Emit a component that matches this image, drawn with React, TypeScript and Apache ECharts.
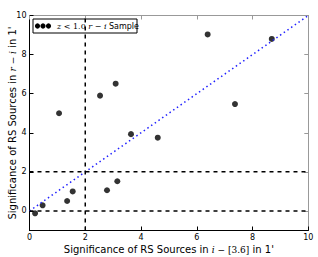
import React, { useEffect, useRef } from "react";
import * as echarts from "echarts";

const xValues = [0.2, 0.47, 1.35, 1.55, 2.78, 3.15, 3.64, 4.6, 1.06, 2.53, 3.09, 6.39, 7.37, 8.69];
const yValues = [-0.12, 0.29, 0.51, 1.0, 1.06, 1.52, 3.93, 3.75, 5.0, 5.9, 6.51, 9.03, 5.47, 8.8];
const xTicks = [0, 2, 4, 6, 8, 10];
const yTicks = [0, 2, 4, 6, 8, 10];
const vLineX = 2;
const hLineYs = [0, 2];
const oneToOne = [[0, 0], [10, 10]];

export default function App() {
  const ref = useRef<HTMLDivElement>(null);
  useEffect(() => {
    if (!ref.current) return;
    const chart = echarts.init(ref.current, null, { renderer: "svg" });
    const sans = "DejaVu Sans";
    const math = "DejaVu Serif";
    const gL = 29.5, gR = 9.7, gT = 15.5, gB = 26.5;
    const tickCommon = { show: true, inside: true, length: 4, lineStyle: { color: "#000", width: 1 } };
    const rich = {
      m: { fontFamily: math, fontStyle: "italic", fontSize: 9, color: "#000" },
      s: { fontFamily: math, fontSize: 9, color: "#000" },
      t: { fontFamily: sans, fontSize: 10, color: "#000" },
    };
    chart.setOption({
      animation: false,
      grid: { left: gL, right: gR, top: gT, bottom: gB, containLabel: false, outerBoundsMode: "none" },
      xAxis: [
        {
          type: "value", min: 0, max: 10, position: "bottom",
          axisLine: { show: true, onZero: false, lineStyle: { color: "#000", width: 1 } },
          axisTick: { ...tickCommon, customValues: xTicks },
          axisLabel: { customValues: xTicks, fontFamily: sans, fontSize: 8, color: "#000", margin: 3 },
          splitLine: { show: false },
          name: "{t|Significance of RS Sources in }{m|i}{s| − [3.6]}{t| in 1'}",
          nameLocation: "middle", nameGap: 14, nameMoveOverlap: false,
          nameTextStyle: { rich },
        },
        {
          type: "value", min: 0, max: 10, position: "top",
          axisLine: { show: true, onZero: false, lineStyle: { color: "#999", width: 1 } },
          axisTick: { ...tickCommon, customValues: xTicks, lineStyle: { color: "#999" } },
          axisLabel: { show: false }, splitLine: { show: false },
        },
      ],
      yAxis: [
        {
          type: "value", min: -1, max: 10, position: "left",
          axisLine: { show: true, onZero: false, lineStyle: { color: "#000", width: 1 } },
          axisTick: { ...tickCommon, customValues: yTicks },
          axisLabel: { customValues: yTicks, fontFamily: sans, fontSize: 8, color: "#000", margin: 3 },
          splitLine: { show: false },
          name: "{t|Significance of RS Sources in }{m|r}{s| − }{m|i}{t| in 1'}",
          nameLocation: "middle", nameGap: 12, nameRotate: 90, nameMoveOverlap: false,
          nameTextStyle: { rich },
        },
        {
          type: "value", min: -1, max: 10, position: "right",
          axisLine: { show: true, onZero: false, lineStyle: { color: "#999", width: 1 } },
          axisTick: { ...tickCommon, customValues: yTicks, lineStyle: { color: "#999" } },
          axisLabel: { show: false }, splitLine: { show: false },
        },
      ],
      series: [
        {
          type: "line", data: oneToOne, symbol: "none", silent: true,
          lineStyle: { color: "#2020ff", width: 1.5, type: [1.5, 3] },
        },
        {
          type: "line", data: [[vLineX, -1], [vLineX, 10]], symbol: "none",
          lineStyle: { color: "#000", width: 1.5, type: [4, 4] },
        },
        ...hLineYs.map((y) => ({
          type: "line", data: [[0, y], [10, y]], symbol: "none",
          lineStyle: { color: "#000", width: 1.5, type: [4, 4] },
        })),
        {
          type: "scatter", symbol: "circle", symbolSize: 6,
          itemStyle: { color: "#000" },
          data: xValues.map((x, i) => [x, yValues[i]]),
        },
      ],
      graphic: [
        {
          type: "group", x: 33, y: 19,
          children: [
            { type: "rect", shape: { x: 0, y: 0, width: 104, height: 14 }, style: { fill: "#fff", stroke: "#000", lineWidth: 1 } },
            { type: "circle", shape: { cx: 4.5, cy: 7, r: 2.6 }, style: { fill: "#000" } },
            { type: "circle", shape: { cx: 10, cy: 7, r: 2.6 }, style: { fill: "#000" } },
            { type: "circle", shape: { cx: 15.5, cy: 7, r: 2.6 }, style: { fill: "#000" } },
            {
              type: "text", x: 24, y: 7,
              style: {
                text: "{m|z}{s| < 1.0 }{m|r}{s| − }{m|i}{t| Sample}",
                verticalAlign: "middle",
                rich: {
                  m: { fontFamily: math, fontStyle: "italic", fontSize: 8, fill: "#000" },
                  s: { fontFamily: math, fontSize: 8, fill: "#000" },
                  t: { fontFamily: sans, fontSize: 8, fill: "#000" },
                },
              },
            },
          ],
        },
      ],
    });
    return () => chart.dispose();
  }, []);
  return <div ref={ref} style={{ width: 318, height: 257, position: "absolute", left: 0, top: 0 }} />;
}
